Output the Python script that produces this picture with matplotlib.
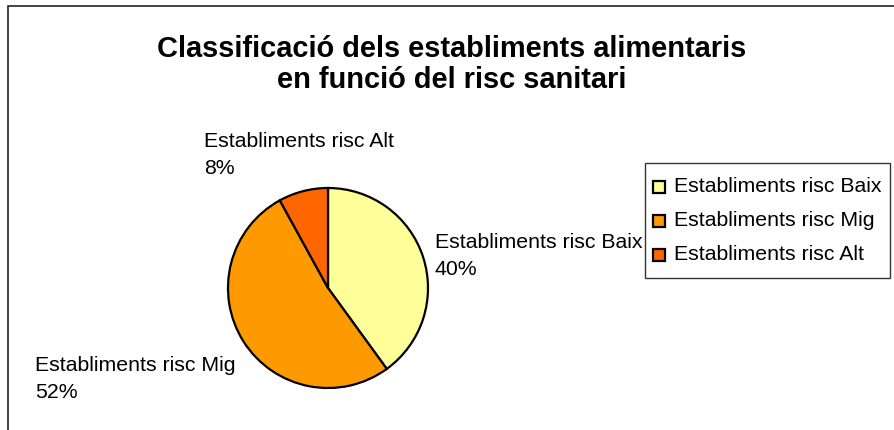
import matplotlib.pyplot as plt
from matplotlib.patches import Rectangle

# Dades: percentatge d'establiments per nivell de risc
categories = ['Establiments risc Baix', 'Establiments risc Mig', 'Establiments risc Alt']
valors = [40, 52, 8]
colors = ['#FFFF99', '#FF9900', '#FF6600']

W, H = 895, 430
plt.rcParams['font.family'] = ['Liberation Sans', 'DejaVu Sans']


def px(x, y):
    return x / W, 1 - y / H


fig = plt.figure(figsize=(W / 100, H / 100), dpi=100)

# marc del gràfic (vora superior i esquerra visibles)
fig.patches.append(Rectangle((8 / W, -0.1), 1.2, 1 - 6 / H + 0.1, transform=fig.transFigure,
                             fill=False, edgecolor='#222222', linewidth=1.2))

fig.text(*px(452, 57), 'Classificació dels establiments alimentaris',
         ha='center', va='baseline', fontsize=20.9, fontweight='bold')
fig.text(*px(452, 88), 'en funció del risc sanitari',
         ha='center', va='baseline', fontsize=20.9, fontweight='bold')

# pastís: centre (328, 288) px, radi 100 px
ax = fig.add_axes([228 / W, (H - 388) / H, 200 / W, 200 / H])
wedges, _ = ax.pie(valors, colors=colors, startangle=90, counterclock=False, radius=1,
                   wedgeprops=dict(edgecolor='black', linewidth=1.6))
ax.set_xlim(-1, 1)
ax.set_ylim(-1, 1)
ax.set_aspect('auto')
ax.axis('off')
for w in wedges:
    w.set_clip_on(False)

# etiquetes de dades
posicions = [(435, 248), (35, 371), (204, 147)]
for nom, v, (x, y) in zip(categories, valors, posicions):
    fig.text(*px(x, y), nom, ha='left', va='baseline', fontsize=15.3)
    fig.text(*px(x, y + 27), f'{v}%', ha='left', va='baseline', fontsize=15.3)

# llegenda
fig.patches.append(Rectangle(px(645, 278), 245 / W, 115 / H, transform=fig.transFigure,
                             facecolor='white', edgecolor='#333333', linewidth=1.0))
for i, (nom, c) in enumerate(zip(categories, colors)):
    yc = 187 + 34 * i
    fig.patches.append(Rectangle(px(653, yc + 6), 12 / W, 12 / H, transform=fig.transFigure,
                                 facecolor=c, edgecolor='black', linewidth=1.6))
    fig.text(*px(674, yc), nom, ha='left', va='center', fontsize=15.3)

fig.savefig('out.png', dpi=100)
